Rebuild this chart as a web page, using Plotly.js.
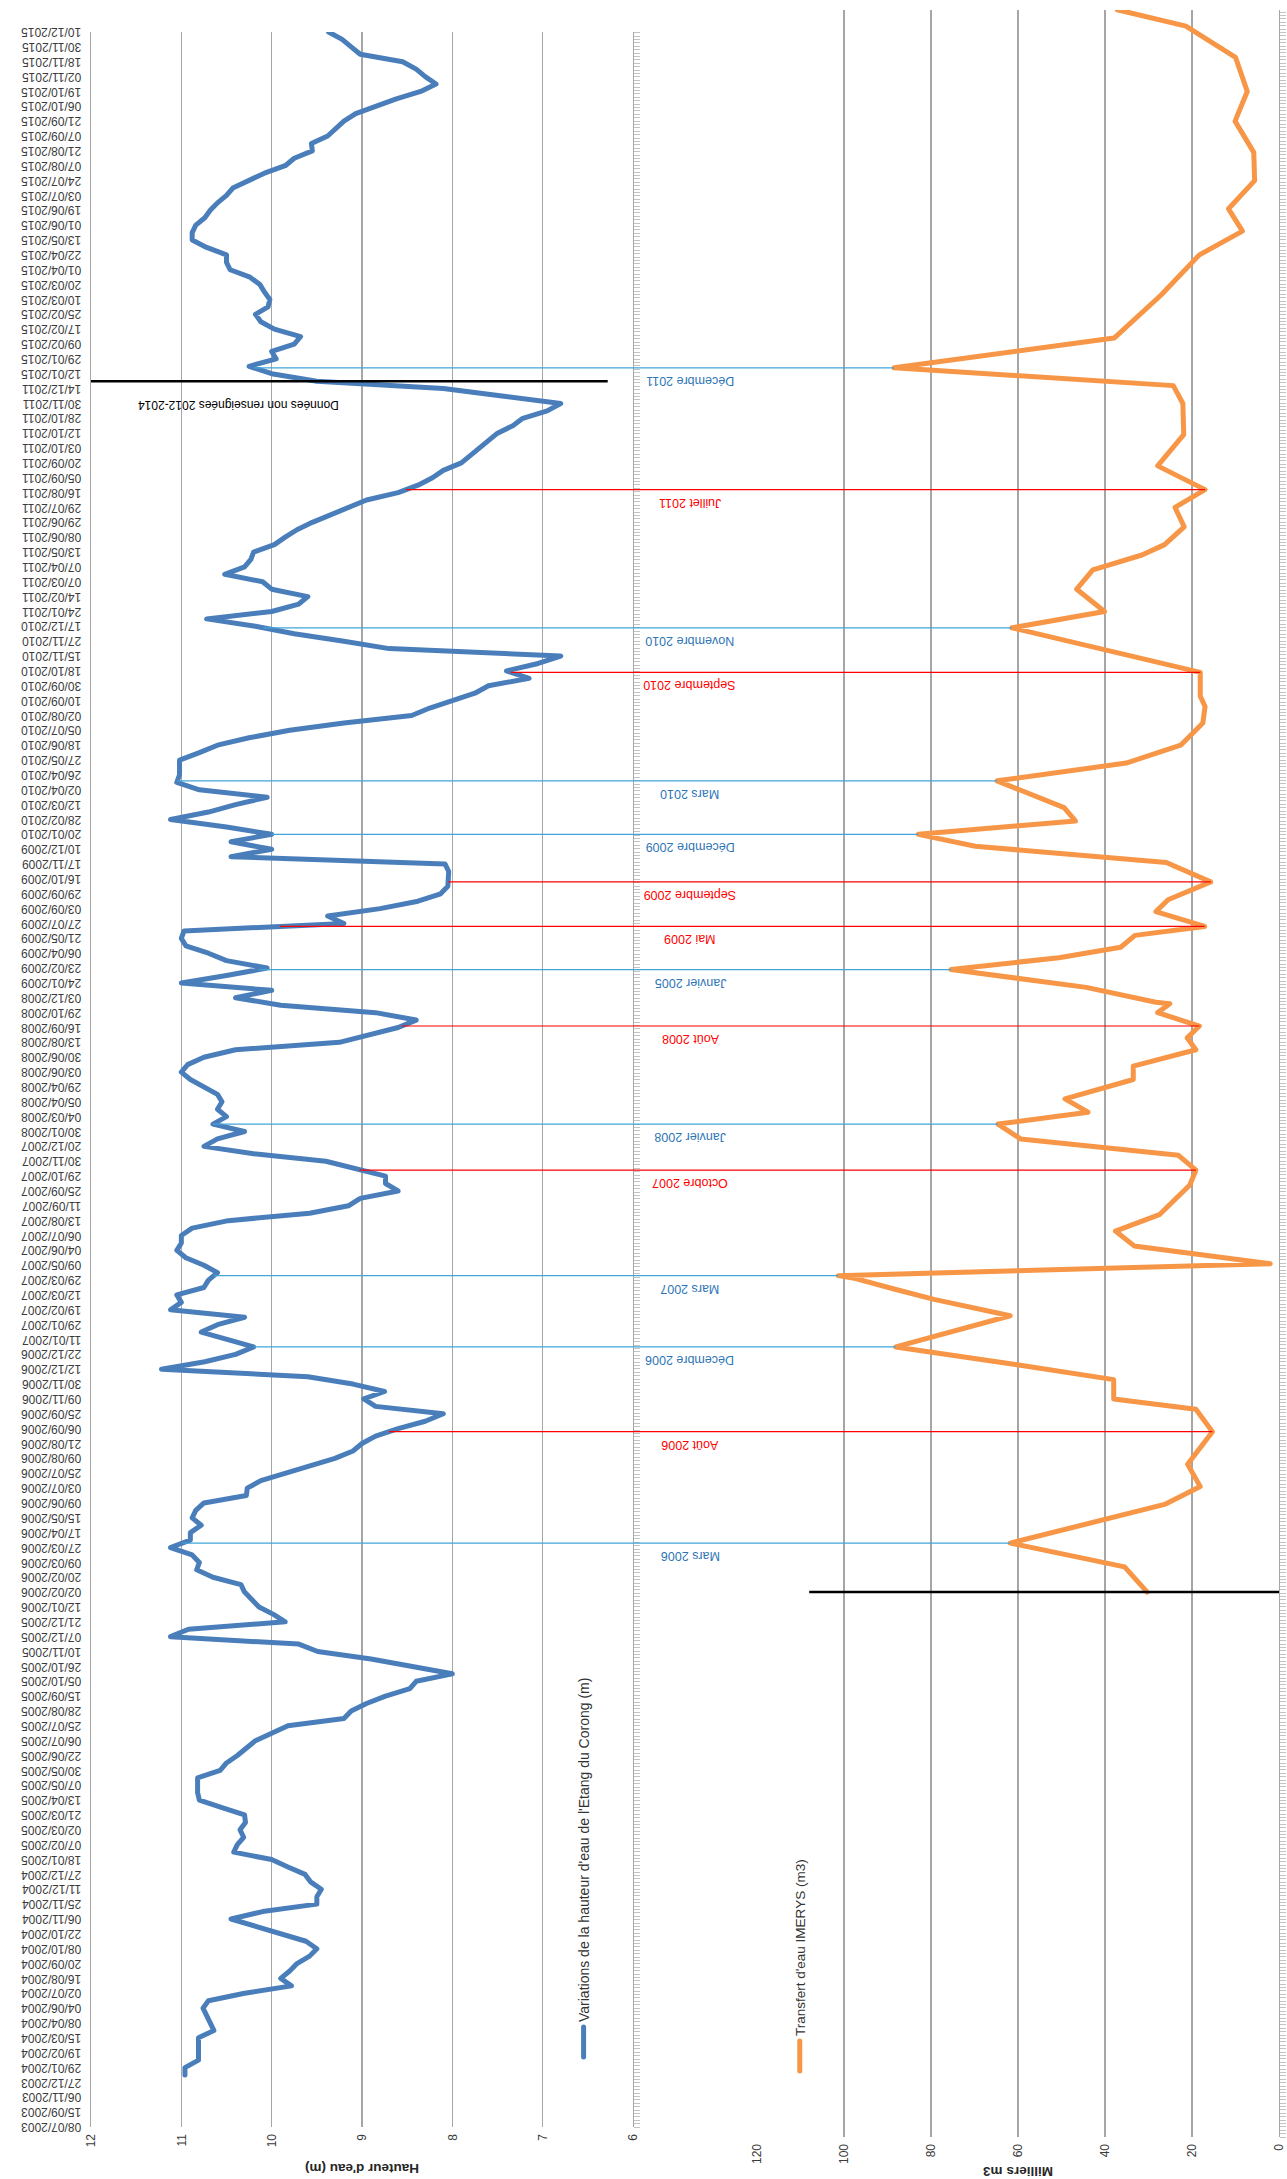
<!DOCTYPE html>
<html><head><meta charset="utf-8">
<script src="https://cdn.plot.ly/plotly-3.0.1.min.js"></script>
<style>
html,body{margin:0;padding:0;background:#fff;overflow:hidden;width:1287px;height:2179px;}
#wrap{position:absolute;left:0;top:0;width:2179px;height:1287px;transform-origin:0 0;transform:translateY(2179px) rotate(-90deg);}
#chart{width:2179px;height:1287px;}
#chart .js-line{stroke-linejoin:round;stroke-linecap:round;}
</style></head><body><div id="wrap"><div id="chart"></div></div>
<script>
// ---------- DATA ----------
const dateLabels = ["08/07/2003","15/09/2003","06/11/2003","27/12/2003",
"29/01/2004","19/02/2004","15/03/2004","08/04/2004","04/06/2004","02/07/2004","16/08/2004","20/09/2004","08/10/2004","22/10/2004","06/11/2004","25/11/2004","11/12/2004","27/12/2004",
"18/01/2005","07/02/2005","02/03/2005","21/03/2005","13/04/2005","07/05/2005","30/05/2005","22/06/2005","06/07/2005","25/07/2005","28/08/2005","15/09/2005","05/10/2005","26/10/2005","10/11/2005","07/12/2005","21/12/2005",
"12/01/2006","02/02/2006","20/02/2006","09/03/2006","27/03/2006","17/04/2006","15/05/2006","09/06/2006","03/07/2006","25/07/2006","09/08/2006","21/08/2006","06/09/2006","25/09/2006","09/11/2006","30/11/2006","12/12/2006","22/12/2006",
"11/01/2007","29/01/2007","19/02/2007","12/03/2007","29/03/2007","09/05/2007","04/06/2007","06/07/2007","13/08/2007","11/09/2007","25/09/2007","29/10/2007","30/11/2007","20/12/2007",
"30/01/2008","04/03/2008","05/04/2008","29/04/2008","03/06/2008","30/06/2008","13/08/2008","16/09/2008","29/10/2008","03/12/2008",
"24/01/2009","23/02/2009","06/04/2009","21/05/2009","27/07/2009","03/09/2009","29/09/2009","16/10/2009","17/11/2009","10/12/2009",
"20/01/2010","28/02/2010","12/03/2010","02/04/2010","26/04/2010","27/05/2010","18/06/2010","05/07/2010","02/08/2010","10/09/2010","30/09/2010","18/10/2010","15/11/2010","27/11/2010","17/12/2010",
"24/01/2011","14/02/2011","07/03/2011","07/04/2011","13/05/2011","08/06/2011","29/06/2011","29/07/2011","16/08/2011","05/09/2011","20/09/2011","03/10/2011","12/10/2011","28/10/2011","30/11/2011","14/12/2011",
"12/01/2015","29/01/2015","09/02/2015","17/02/2015","25/02/2015","10/03/2015","20/03/2015","01/04/2015","22/04/2015","13/05/2015","01/06/2015","19/06/2015","03/07/2015","24/07/2015","07/08/2015","21/08/2015","07/09/2015","21/09/2015","06/10/2015","19/10/2015","02/11/2015","18/11/2015","30/11/2015","10/12/2015"];

// water height (m), one reading every half label interval
const blueLevel = [
null,null,null,null,null,null,null,10.96,10.96,10.81,
10.81,10.81,10.81,10.64,10.68,10.72,10.76,10.7,10.3,9.78,
9.9,9.8,9.72,9.58,9.5,9.62,9.9,10.2,10.45,10.1,
9.5,9.5,9.45,9.57,9.63,9.82,10.0,10.42,10.38,10.31,
10.35,10.29,10.3,10.55,10.8,10.82,10.82,10.82,10.57,10.5,
10.38,10.27,10.18,10.0,9.82,9.2,9.12,8.95,8.74,8.47,
8.4,8.0,8.43,8.9,9.49,9.7,11.12,10.92,9.85,9.98,
10.14,10.22,10.3,10.34,10.65,10.83,10.8,10.88,11.12,10.9,
10.9,10.78,10.88,10.84,10.75,10.28,10.27,10.12,9.85,9.55,
9.3,9.1,9.0,8.85,8.6,8.3,8.1,8.85,8.98,8.75,
9.1,9.6,11.22,10.74,10.4,10.2,10.48,10.78,10.6,10.3,
11.12,11.0,11.05,10.75,10.7,10.6,10.75,10.95,11.05,11.0,
11.0,10.88,10.48,9.58,9.15,9.02,8.6,8.74,8.74,9.1,
9.4,10.2,10.75,10.6,10.3,10.65,10.5,10.6,10.55,10.6,
10.75,10.9,11.0,10.93,10.75,10.4,9.25,8.95,8.6,8.4,
8.85,9.9,10.4,10.0,11.0,10.5,10.05,10.5,10.7,10.95,
11.0,10.97,9.2,9.38,8.8,8.38,8.13,8.05,8.04,8.04,
8.08,10.45,10.0,10.45,10.0,10.5,11.12,10.7,10.4,10.05,
10.8,11.05,11.02,11.02,11.02,10.8,10.6,10.25,9.8,9.2,
8.45,8.25,8.0,7.75,7.6,7.15,7.4,7.05,6.8,8.7,
9.2,9.75,10.18,10.72,10.0,9.7,9.6,10.0,10.1,10.52,
10.3,10.23,10.2,9.97,9.85,9.72,9.55,9.35,9.15,8.95,
8.6,8.38,8.22,8.1,7.9,7.8,7.72,7.62,7.5,7.33,
7.22,6.95,6.8,7.45,8.1,9.5,10.0,10.25,9.95,10.0,
9.75,9.68,9.97,10.12,10.18,10.04,10.02,10.08,10.13,10.24,
10.46,10.5,10.5,10.72,10.88,10.88,10.84,10.74,10.68,10.6,
10.5,10.43,10.25,10.08,9.85,9.75,9.55,9.56,9.38,9.28,
9.2,9.07,8.85,8.62,8.35,8.18,8.3,8.4,8.55,9.02,
9.12,9.22,9.37];

// IMERYS transfers: time position (in label-index units) and volume (thousand m3)
const orangeTime = [36.0,37.7,39.3,41.9,43.1,44.6,46.8,48.3,49.0,50.3,51.3,52.5,54.6,55.7,56.4,57.1,57.3,58.1,59.3,60.3,61.4,63.4,64.4,65.4,66.5,67.5,68.3,69.2,70.5,71.4,72.5,73.3,74.1,75.0,75.6,75.7,76.7,77.9,78.7,79.4,80.2,80.8,81.8,82.6,83.8,85.1,86.2,87.0,87.9,88.8,90.6,91.8,93.0,94.5,95.6,96.3,97.9,100.9,102.0,103.5,104.8,105.8,106.5,107.7,109.0,110.2,111.8,113.9,116.0,117.2,118.4,120.4,123.3,126.0,127.6,129.1,131.0,132.9,135.0,137.0,139.3,141.4,142.5];
const orangeVolume = [30.3,35.5,61.8,26.3,18.1,21.0,15.3,19.1,38.0,38.0,60.2,88.1,61.8,79.3,88.5,97.3,101.3,2.0,33.3,37.6,27.5,20.5,19.1,23.1,59.4,64.6,43.9,49.2,33.5,33.5,19.1,21.1,18.3,27.9,25.1,28.3,44.3,75.4,50.6,36.4,33.1,17.1,28.3,25.5,15.7,25.9,69.8,82.9,46.8,49.4,64.8,35.1,22.6,17.5,17.0,18.1,18.1,61.4,40.1,46.5,42.8,31.5,26.3,21.8,23.9,17.0,27.9,21.9,22.1,24.3,88.5,37.9,27.1,18.3,8.4,11.6,5.6,5.8,10.1,7.3,10.0,21.4,37.2];

// events: label, kind (low = blue, high = red), index of the matching transfer point
const eventNames = ["Mars 2006","Août 2006","Décembre 2006","Mars 2007","Octobre 2007","Janvier 2008","Août 2008","Janvier 2005","Mai 2009","Septembre 2009","Décembre 2009","Mars 2010","Septembre 2010","Novembre 2010","Juillet 2011","Décembre 2011"];
const eventKinds = ["low","high","low","low","high","low","high","low","high","high","low","low","high","low","high","low"];
const eventPoint = [2,6,11,16,22,25,32,37,41,44,47,50,56,57,65,70];

const gapNote = "Données non renseignées 2012-2014";
const lastBefore = "14/12/2011";

// ---------- LAYOUT (landscape, rotated by CSS) ----------
const W = 2179, H = 1287;
const PB = {l: 52, r: 2147, t: 91, b: 633};     // blue plot, px
const PO = {l: 42, r: 2169, t: 757, b: 1279};   // orange plot, px
const N = dateLabels.length;
const unit = (PB.r - PB.l) / (N - 1);
const x2range = [(PO.l - PB.l) / unit, (N - 1) + (PO.r - PB.r) / unit];
const yBlue = [1 - PB.b / H, 1 - PB.t / H];
const yOr = [1 - PO.b / H, 1 - PO.t / H];
const FONT = "Liberation Sans, Arial, sans-serif";
const GRID = '#a6a6a6';
const COL = {low: {line: '#41a5d8', text: '#2e75b6'}, high: {line: '#ff0000', text: '#ff0000'}};

const blueT = blueLevel.map((v, k) => k / 2);
function blueAt(t) {
  const k = t * 2, k0 = Math.floor(k), k1 = Math.min(k0 + 1, blueLevel.length - 1);
  const a = blueLevel[k0], b = blueLevel[k1];
  if (a == null) return b; if (b == null) return a;
  return a + (b - a) * (k - k0);
}
const pBlue = v => yBlue[0] + (v - 6) / 6 * (yBlue[1] - yBlue[0]);
const pOr = v => yOr[0] + v / 120 * (yOr[1] - yOr[0]);

const traces = [
  {type: 'scatter', mode: 'lines', x: blueT, y: blueLevel, xaxis: 'x', yaxis: 'y',
   name: "Variations de la hauteur d'eau de l'Etang du Corong (m)", legend: 'legend', showlegend: true,
   line: {color: '#4a7ebb', width: 5}, hoverinfo: 'skip'},
  {type: 'scatter', mode: 'lines', x: orangeTime, y: orangeVolume, xaxis: 'x2', yaxis: 'y2',
   name: "Transfert d'eau IMERYS (m3)", legend: 'legend2', showlegend: true,
   line: {color: '#f79646', width: 5}, hoverinfo: 'skip'},
  // empty carriers so the ruled axis lines are drawn
  {type: 'scatter', mode: 'lines', x: [], y: [], xaxis: 'x3', yaxis: 'y', showlegend: false, hoverinfo: 'skip'},
  {type: 'scatter', mode: 'lines', x: [], y: [], xaxis: 'x4', yaxis: 'y2', showlegend: false, hoverinfo: 'skip'}
];

const gapT = dateLabels.indexOf(lastBefore) + 0.5;
const shapes = [
  {type: 'line', xref: 'x', yref: 'y', x0: gapT, x1: gapT, y0: 12, y1: 6.28, line: {color: '#000', width: 2.5}},
  {type: 'line', xref: 'x2', yref: 'y2', x0: orangeTime[0], x1: orangeTime[0], y0: 0, y1: 108, line: {color: '#000', width: 2.5}}
];
const annotations = [
  {xref: 'x', yref: 'paper', x: gapT, xshift: -24, y: 1 - 238 / H, xanchor: 'center', yanchor: 'middle',
   text: gapNote, showarrow: false, textangle: -90, font: {family: FONT, size: 12, color: '#000'}}
];
eventNames.forEach((name, j) => {
  const p = eventPoint[j], t = orangeTime[p], c = COL[eventKinds[j]];
  shapes.push({type: 'line', xref: 'x2', yref: 'paper', x0: t, x1: t,
    y0: pBlue(blueAt(t)), y1: pOr(orangeVolume[p]), line: {color: c.line, width: 1.2}});
  annotations.push({xref: 'x2', yref: 'paper', x: t, xshift: -13, y: 1 - 690 / H,
    xanchor: 'center', yanchor: 'middle', text: name,
    showarrow: false, textangle: -90, font: {family: FONT, size: 12.5, color: c.text}});
});

const hatch = (len) => ({range: [0, 1], tickmode: 'linear', tick0: 0, dtick: 3.4 / len, ticks: 'outside',
  ticklen: 6, tickwidth: 1, tickcolor: '#c4c4c4', showline: true, linecolor: GRID, linewidth: 1.4,
  showticklabels: false, showgrid: false, zeroline: false, side: 'bottom', fixedrange: true});

const layout = {
  width: W, height: H, margin: {l: 0, r: 0, t: 0, b: 0},
  paper_bgcolor: '#fff', plot_bgcolor: 'rgba(0,0,0,0)', showlegend: true,
  font: {family: FONT, color: '#404040'},
  xaxis: {domain: [PB.l / W, PB.r / W], range: [0, N - 1], anchor: 'y', side: 'top',
    tickmode: 'array', tickvals: dateLabels.map((d, i) => i), ticktext: dateLabels, tickangle: -90,
    tickfont: {family: FONT, size: 12, color: '#3a3a3a'}, ticks: '', ticklabelstandoff: 6,
    showgrid: false, zeroline: false, showline: true, linecolor: GRID, linewidth: 1.4, fixedrange: true},
  yaxis: {domain: yBlue, range: [6, 12], anchor: 'x', tickmode: 'linear', tick0: 6, dtick: 1,
    gridcolor: GRID, gridwidth: 1.4, zeroline: false, showline: false, ticks: '', ticklabelstandoff: 6,
    ticklabeloverflow: 'allow', tickfont: {family: FONT, size: 12, color: '#3a3a3a'},
    title: {text: "Hauteur d'eau (m)", font: {family: FONT, size: 13.5, color: '#262626', weight: 'bold'}}},
  xaxis3: Object.assign(hatch(PB.r - PB.l), {overlaying: 'x', anchor: 'y'}),
  xaxis2: {domain: [PO.l / W, PO.r / W], range: x2range, anchor: 'y2', showticklabels: false, ticks: '',
    showgrid: false, zeroline: false, showline: false, fixedrange: true},
  yaxis2: {domain: yOr, range: [0, 120], anchor: 'x2', tickmode: 'linear', tick0: 0, dtick: 20,
    gridcolor: GRID, gridwidth: 1.4, zeroline: false, showline: false, ticks: '', ticklabelstandoff: 6,
    ticklabeloverflow: 'allow', tickfont: {family: FONT, size: 12, color: '#3a3a3a'},
    title: {text: 'Milliers m3', font: {family: FONT, size: 13.5, color: '#262626', weight: 'bold'}}},
  xaxis4: Object.assign(hatch(PO.r - PO.l), {overlaying: 'x2', anchor: 'y2'}),
  legend: {visible: true, x: 117 / W, y: 1 - 584 / H, xanchor: 'left', yanchor: 'middle', bgcolor: 'rgba(0,0,0,0)',
    font: {family: FONT, size: 14, color: '#333333'}},
  legend2: {visible: true, x: 103 / W, y: 1 - 800 / H, xanchor: 'left', yanchor: 'middle', bgcolor: 'rgba(0,0,0,0)',
    font: {family: FONT, size: 13.5, color: '#333333'}},
  shapes: shapes, annotations: annotations
};

Plotly.newPlot('chart', traces, layout, {staticPlot: true, displayModeBar: false, responsive: false});
</script></body></html>
